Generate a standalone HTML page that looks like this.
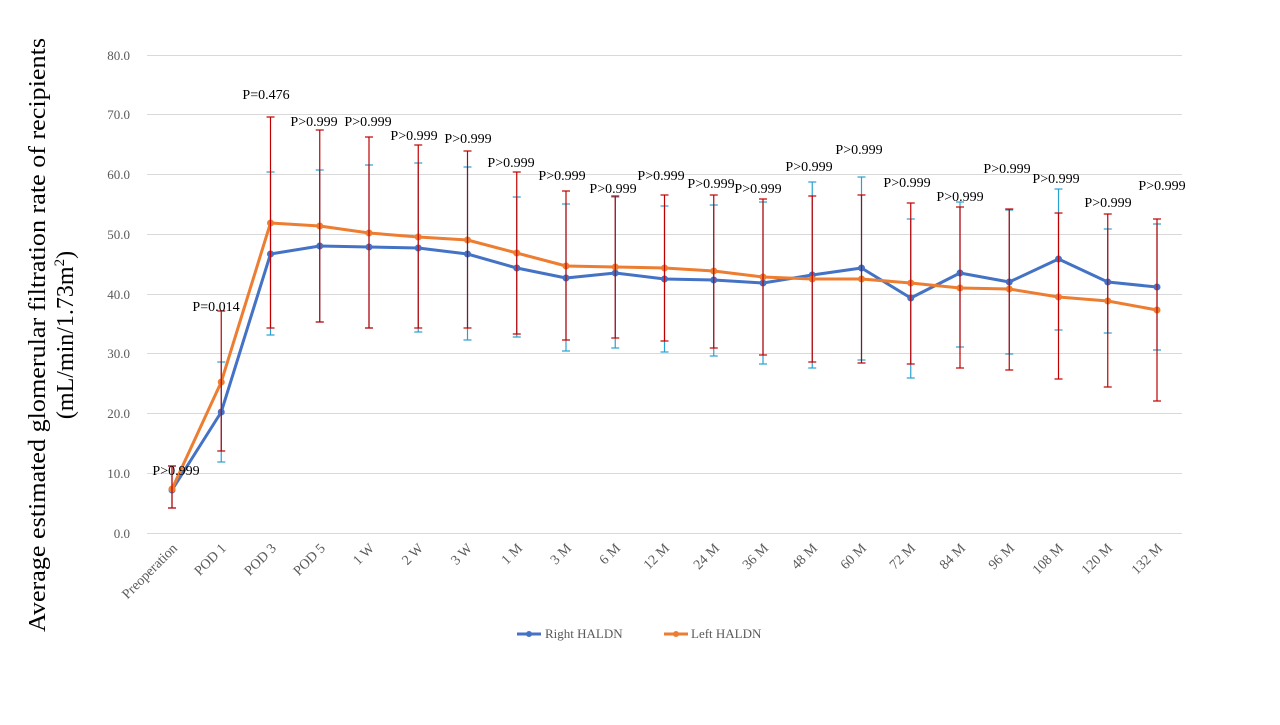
<!DOCTYPE html>
<html><head><meta charset="utf-8"><style>
body{margin:0;background:#fff;width:1280px;height:720px;overflow:hidden}
svg text{font-family:"Liberation Serif",serif}
.p{font-size:14px;fill:#000;text-anchor:middle}
</style></head><body>
<svg id="s" width="1280" height="720" xmlns="http://www.w3.org/2000/svg">
<g stroke="#d9d9d9" stroke-width="1">
<line x1="147" x2="1182" y1="533.5" y2="533.5"/><line x1="147" x2="1182" y1="473.5" y2="473.5"/>
<line x1="147" x2="1182" y1="413.5" y2="413.5"/><line x1="147" x2="1182" y1="353.5" y2="353.5"/>
<line x1="147" x2="1182" y1="294.5" y2="294.5"/><line x1="147" x2="1182" y1="234.5" y2="234.5"/>
<line x1="147" x2="1182" y1="174.5" y2="174.5"/><line x1="147" x2="1182" y1="114.5" y2="114.5"/>
<line x1="147" x2="1182" y1="55.5" y2="55.5"/>
</g>
<g text-anchor="end" style="font-size:13px;fill:#595959">
<text x="130" y="538">0.0</text><text x="130" y="478">10.0</text><text x="130" y="418">20.0</text>
<text x="130" y="358">30.0</text><text x="130" y="299">40.0</text><text x="130" y="239">50.0</text>
<text x="130" y="179">60.0</text><text x="130" y="119">70.0</text><text x="130" y="60">80.0</text>
</g>
<g style="font-size:14px;fill:#595959" text-anchor="end">
<text transform="translate(178,549) rotate(-45)">Preoperation</text>
<text transform="translate(227,549) rotate(-45)">POD 1</text>
<text transform="translate(277,549) rotate(-45)">POD 3</text>
<text transform="translate(326,549) rotate(-45)">POD 5</text>
<text transform="translate(375,549) rotate(-45)">1 W</text>
<text transform="translate(424,549) rotate(-45)">2 W</text>
<text transform="translate(473,549) rotate(-45)">3 W</text>
<text transform="translate(523,549) rotate(-45)">1 M</text>
<text transform="translate(572,549) rotate(-45)">3 M</text>
<text transform="translate(621,549) rotate(-45)">6 M</text>
<text transform="translate(670,549) rotate(-45)">12 M</text>
<text transform="translate(720,549) rotate(-45)">24 M</text>
<text transform="translate(769,549) rotate(-45)">36 M</text>
<text transform="translate(818,549) rotate(-45)">48 M</text>
<text transform="translate(867,549) rotate(-45)">60 M</text>
<text transform="translate(916,549) rotate(-45)">72 M</text>
<text transform="translate(966,549) rotate(-45)">84 M</text>
<text transform="translate(1015,549) rotate(-45)">96 M</text>
<text transform="translate(1064,549) rotate(-45)">108 M</text>
<text transform="translate(1113,549) rotate(-45)">120 M</text>
<text transform="translate(1163,549) rotate(-45)">132 M</text>
</g>
<g id="data"></g>
<g class="p">
<text x="176" y="475">P&gt;0.999</text><text x="216" y="311">P=0.014</text><text x="266" y="99">P=0.476</text>
<text x="314" y="126">P&gt;0.999</text><text x="368" y="126">P&gt;0.999</text><text x="414" y="140">P&gt;0.999</text>
<text x="468" y="143">P&gt;0.999</text><text x="511" y="167">P&gt;0.999</text><text x="562" y="180">P&gt;0.999</text>
<text x="613" y="193">P&gt;0.999</text><text x="661" y="180">P&gt;0.999</text><text x="711" y="188">P&gt;0.999</text>
<text x="758" y="193">P&gt;0.999</text><text x="809" y="171">P&gt;0.999</text><text x="859" y="154">P&gt;0.999</text>
<text x="907" y="187">P&gt;0.999</text><text x="960" y="201">P&gt;0.999</text><text x="1007" y="173">P&gt;0.999</text>
<text x="1056" y="183">P&gt;0.999</text><text x="1108" y="207">P&gt;0.999</text><text x="1162" y="190">P&gt;0.999</text>
</g>
<text transform="translate(45,335) rotate(-90)" text-anchor="middle" font-size="24" textLength="594" lengthAdjust="spacingAndGlyphs">Average estimated glomerular filtration rate of recipients</text>
<text transform="translate(73,335) rotate(-90)" text-anchor="middle" font-size="24">(mL/min/1.73m<tspan font-size="15" dy="-9">2</tspan><tspan dy="9">)</tspan></text>
<line x1="517" x2="541" y1="634" y2="634" stroke="#4472c4" stroke-width="3"/><circle cx="529" cy="634" r="3" fill="#4472c4"/>
<text x="545" y="638" font-size="13" fill="#595959">Right HALDN</text>
<line x1="664" x2="688" y1="634" y2="634" stroke="#ed7d31" stroke-width="3"/><circle cx="676" cy="634" r="3" fill="#ed7d31"/>
<text x="691" y="638" font-size="13" fill="#595959">Left HALDN</text>
</svg>
<script>
var B=[490,412,254,246,247,248,254,268,278,273,279,280,283,275,268,298,273,282,259,282,287];
var O=[489,382,223,226,233,237,240,253,266,267,268,271,277,279,279,283,288,289,297,301,310];
var RT=[466,311,117,130,137,145,151,172,191,196,195,195,199,196,195,203,207,209,213,214,219];
var RB=[508,451,328,322,328,328,328,334,340,338,341,348,355,362,363,364,368,370,379,387,401];
var CT=[466,362,172,170,165,163,167,197,204,197,206,205,202,182,177,219,202,210,189,229,224];
var CB=[508,462,335,322,328,332,340,337,351,348,352,356,364,368,360,378,347,354,330,333,350];
var g='',X=i=>172+49.25*i;
function eb(t,b,c,x){return `<line x1="${x}" x2="${x}" y1="${t}" y2="${b}" stroke="${c}" stroke-width="1.2"/><line x1="${x-4}" x2="${x+4}" y1="${t}" y2="${t}" stroke="${c}" stroke-width="1.2"/><line x1="${x-4}" x2="${x+4}" y1="${b}" y2="${b}" stroke="${c}" stroke-width="1.2"/>`}
for(var i=0;i<21;i++)g+=eb(CT[i],CB[i],'#2aa0d0',X(i));
function ln(a,c){var p=a.map((y,i)=>X(i)+','+y).join(' ');var s=`<polyline points="${p}" fill="none" stroke="${c}" stroke-width="3" stroke-linejoin="round"/>`;a.forEach((y,i)=>s+=`<circle cx="${X(i)}" cy="${y}" r="3.5" fill="${c}"/>`);return s}
g+=ln(B,'#4472c4');g+=ln(O,'#ed7d31');
for(var i=0;i<21;i++)g+=eb(RT[i],RB[i],'#c00000',X(i));
document.getElementById('data').innerHTML=g;
</script>
</body></html>
